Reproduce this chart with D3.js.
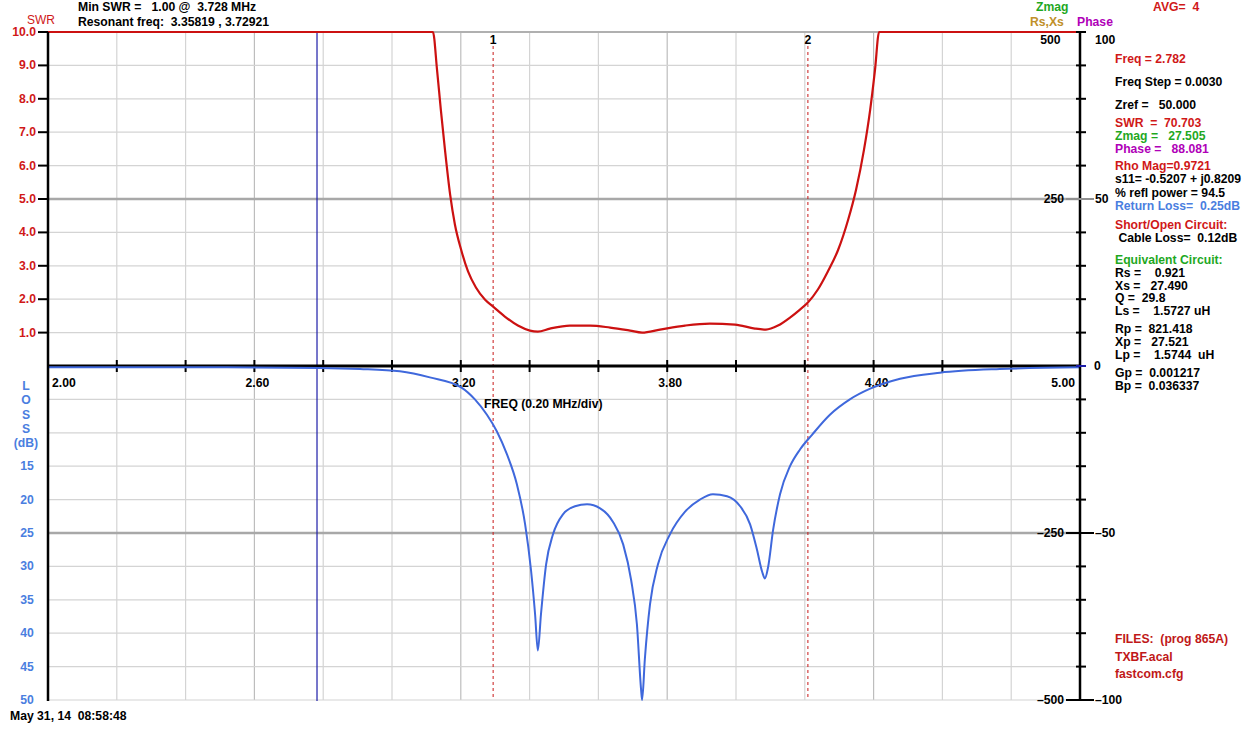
<!DOCTYPE html>
<html><head><meta charset="utf-8">
<script src="https://cdn.jsdelivr.net/npm/d3@7/dist/d3.min.js"></script>
<style>
html,body{margin:0;padding:0;background:#fff;}
text{font-family:"Liberation Sans",Arial,sans-serif;font-weight:bold;font-size:12.2px;white-space:pre;}
</style></head>
<body>
<svg id="c" width="1250" height="750"></svg>
<script>
// ---- data ----
const swrFreq = [2.0,3.119,3.131,3.142,3.154,3.169,3.183,3.201,3.221,3.244,3.270,3.294,3.328,3.366,3.401,3.424,3.459,3.517,3.576,3.634,3.692,3.727,3.779,3.852,3.924,3.997,4.055,4.087,4.122,4.157,4.186,4.209,4.238,4.267,4.297,4.326,4.349,4.372,4.390,4.404,4.416,5.0];
const swrVal  = [10,10,8.86,7.67,6.47,5.13,4.23,3.48,2.83,2.35,1.99,1.78,1.48,1.21,1.06,1.03,1.12,1.21,1.21,1.15,1.06,1.00,1.09,1.21,1.27,1.24,1.12,1.09,1.21,1.45,1.69,1.90,2.29,2.83,3.48,4.38,5.28,6.47,7.67,8.86,10,10];
const lossFreq = [2.0,2.442,2.791,2.907,3.023,3.110,3.201,3.241,3.276,3.305,3.334,3.363,3.387,3.404,3.416,3.424,3.433,3.448,3.468,3.497,3.532,3.567,3.605,3.642,3.672,3.695,3.712,3.724,3.727,3.735,3.750,3.773,3.808,3.852,3.895,3.933,3.974,4.012,4.041,4.061,4.076,4.084,4.093,4.108,4.128,4.157,4.186,4.221,4.273,4.331,4.390,4.477,4.593,4.767,5.0];
const lossVal  = [0.2,0.2,0.3,0.45,0.8,1.7,3.2,5.0,7.3,9.8,13.2,17.7,23.7,30.5,37.2,42.6,37.2,29.7,25.2,22.2,21.0,20.7,21.3,23.3,26.7,32.0,38.7,48.4,50,43.9,35.7,29.7,25.2,21.8,20.0,19.2,19.5,21.0,23.7,27.5,30.8,31.8,30.2,24.5,19.2,15.0,12.5,10.3,7.3,5.0,3.4,1.9,1.0,0.45,0.2];
const freqTicks = [2.0,2.2,2.4,2.6,2.8,3.0,3.2,3.4,3.6,3.8,4.0,4.2,4.4,4.6,4.8,5.0];
const freqLabels = [2.0,2.6,3.2,3.8,4.4,5.0];
const swrTicks = [10,9,8,7,6,5,4,3,2,1];
const lossTicks = [15,20,25,30,35,40,45,50];
const zmagLabels = [500,250,-250,-500];
const phaseLabels = [100,50,0,-50,-100];
const cursorFreq = 2.782;
const markerFreqs = [3.294,4.209];
const markerNames = ["1","2"];
const headerLines = ["Min SWR =   1.00 @  3.728 MHz","Resonant freq:  3.35819 , 3.72921"];
const panelLines = [
 ["Freq = 2.782","#d01818",59],["Freq Step = 0.0030","#000",82],["Zref =   50.000","#000",105],
 ["SWR  =  70.703","#d01818",123],["Zmag =   27.505","#1fa81f",136],["Phase =   88.081","#b000b8",149],
 ["Rho Mag=0.9721","#d01818",166],["s11= -0.5207 + j0.8209","#000",179],["% refl power = 94.5","#000",193],
 ["Return Loss=  0.25dB","#4a7ee0",206],["Short/Open Circuit:","#d01818",225],[" Cable Loss=  0.12dB","#000",238],
 ["Equivalent Circuit:","#1fa81f",260],["Rs =    0.921","#000",273],["Xs =   27.490","#000",286],
 ["Q =  29.8","#000",298],["Ls =    1.5727 uH","#000",311],["Rp =  821.418","#000",329],
 ["Xp =   27.521","#000",342],["Lp =    1.5744  uH","#000",355],["Gp =  0.001217","#000",373],
 ["Bp =  0.036337","#000",386],["FILES:  (prog 865A)","#c01818",639],["TXBF.acal","#c01818",657],["fastcom.cfg","#c01818",674]
];
const dateText = "May 31, 14  08:58:48";

// ---- layout ----
const svg = d3.select("#c");
const L=48, R=1080, T=32, B=700;
const mid = (T+B)/2;
const x = d3.scaleLinear().domain([2,5]).range([L,R]);
const ySwr = d3.scaleLinear().domain([0,10]).range([mid,T]);
const yLoss = d3.scaleLinear().domain([0,50]).range([mid,B]);
const yZ = d3.scaleLinear().domain([-500,500]).range([B,T]);
const yP = d3.scaleLinear().domain([-100,100]).range([B,T]);
const RED="#d01818", BLUE="#4a7ee0";

// grid
const g = svg.append("g");
freqTicks.slice(1,-1).forEach(f=>{
  g.append("line").attr("x1",x(f)).attr("x2",x(f)).attr("y1",T).attr("y2",B)
   .attr("stroke", freqLabels.includes(f)?"#bdbdbd":"#d4d4d4").attr("stroke-width",1.2);
});
d3.range(0,21).forEach(i=>{
  const v = -100 + i*10;
  const yy = yP(v);
  const strong = (v===50||v===-50);
  g.append("line").attr("x1",L).attr("x2",R).attr("y1",yy).attr("y2",yy)
   .attr("stroke", strong?"#a8a8a8":"#d4d4d4").attr("stroke-width",strong?2.5:1.2);
});
g.append("line").attr("x1",L).attr("x2",R).attr("y1",T).attr("y2",T).attr("stroke","#b0b0b0").attr("stroke-width",2);

// marker lines
markerFreqs.forEach((f,i)=>{
  svg.append("line").attr("x1",x(f)).attr("x2",x(f)).attr("y1",T+14).attr("y2",B)
    .attr("stroke","#c81818").attr("stroke-width",1).attr("stroke-dasharray","3,3");
  svg.append("text").attr("x",x(f)).attr("y",T+12).attr("text-anchor","middle").attr("fill","#000").text(markerNames[i]);
});

// cursor line
svg.append("line").attr("x1",x(cursorFreq)).attr("x2",x(cursorFreq)).attr("y1",T).attr("y2",B+1)
  .attr("stroke","#1c1ca8").attr("stroke-width",1.2);

// middle axis
svg.append("line").attr("x1",L).attr("x2",R).attr("y1",mid).attr("y2",mid).attr("stroke","#000").attr("stroke-width",3);
freqTicks.forEach(f=>{
  svg.append("line").attr("x1",x(f)).attr("x2",x(f)).attr("y1",mid-6).attr("y2",mid+6).attr("stroke","#000").attr("stroke-width",2);
});
freqLabels.forEach((f,i)=>{
  let anchor="middle", xx=x(f)+3;
  if(i===0){anchor="start"; xx=x(f)+4;}
  if(i===freqLabels.length-1){anchor="end"; xx=x(f)-5;}
  svg.append("text").attr("x",xx).attr("y",mid+21).attr("text-anchor",anchor).attr("fill","#000").text(f.toFixed(2));
});
svg.append("text").attr("x",484).attr("y",408).attr("fill","#000").text("FREQ (0.20 MHz/div)");

// curves
const lossData = lossFreq.map((f,i)=>[f,lossVal[i]]);
svg.append("path").datum(lossData)
  .attr("d", d3.line().x(d=>x(d[0])).y(d=>yLoss(d[1])).curve(d3.curveMonotoneX))
  .attr("fill","none").attr("stroke","#3f68dc").attr("stroke-width",2);
const swrData = swrFreq.map((f,i)=>[f,swrVal[i]]);
svg.append("path").datum(swrData)
  .attr("d", d3.line().x(d=>x(d[0])).y(d=>ySwr(d[1])).curve(d3.curveMonotoneX))
  .attr("fill","none").attr("stroke","#cc1111").attr("stroke-width",2.2);

// left axis
svg.append("line").attr("x1",L).attr("x2",L).attr("y1",T).attr("y2",B+1).attr("stroke","#000").attr("stroke-width",2.5);
swrTicks.forEach(v=>{
  svg.append("line").attr("x1",L-10).attr("x2",L).attr("y1",ySwr(v)).attr("y2",ySwr(v)).attr("stroke","#000").attr("stroke-width",2);
  svg.append("text").attr("x",L-12).attr("y",ySwr(v)+4).attr("text-anchor","end").attr("fill",RED).text(v.toFixed(1));
});
svg.append("text").attr("x",41).attr("y",24).attr("text-anchor","middle").attr("fill",RED)
  .style("font-weight","normal").style("font-size","12px").text("SWR");
["L","O","S","S","(dB)"].forEach((s,i)=>{
  svg.append("text").attr("x",26).attr("y",390+i*14.3).attr("text-anchor","middle").attr("fill",BLUE).text(s);
});
lossTicks.forEach(v=>{
  svg.append("text").attr("x",27).attr("y",yLoss(v)+4).attr("text-anchor","middle").attr("fill",BLUE).text(v);
});

// right axis
svg.append("line").attr("x1",R).attr("x2",R).attr("y1",T).attr("y2",B+1).attr("stroke","#000").attr("stroke-width",2.5);
d3.range(0,21).forEach(i=>{
  const v=-100+i*10;
  const yy=yP(v);
  if(v===50||v===-50||v===-100){
    svg.append("line").attr("x1",R-14).attr("x2",R+14).attr("y1",yy).attr("y2",yy).attr("stroke",v===50?"#909090":"#000").attr("stroke-width",2);
  } else {
    svg.append("line").attr("x1",R-4).attr("x2",R+6).attr("y1",yy).attr("y2",yy).attr("stroke",v===0?"#1c1ca8":"#000").attr("stroke-width",2);
  }
});
zmagLabels.forEach(v=>{
  const yy = v===500? yZ(v)+12 : yZ(v)+4;
  svg.append("text").attr("x",R-16).attr("y",yy).attr("text-anchor","end").attr("fill","#000").text(v===500?"500 ":String(v).replace("-","\u2013"));
});
phaseLabels.forEach(v=>{
  const yy = v===100? yP(v)+12 : yP(v)+4;
  const xx = v===0 ? R+14 : R+15;
  svg.append("text").attr("x",xx).attr("y",yy).attr("text-anchor","start").attr("fill","#000").text(String(v).replace("-","\u2013"));
});

// header texts
svg.append("text").attr("x",78).attr("y",11).attr("fill","#000").text(headerLines[0]);
svg.append("text").attr("x",78).attr("y",26).attr("fill","#000").text(headerLines[1]);
svg.append("text").attr("x",1036).attr("y",11).attr("fill","#1fa81f").text("Zmag");
svg.append("text").attr("x",1030).attr("y",26).attr("fill","#c0902a").text("Rs,Xs");
svg.append("text").attr("x",1077).attr("y",26).attr("fill","#b000b8").text("Phase");
svg.append("text").attr("x",1153).attr("y",11).attr("fill",RED).text("AVG=  4");

// right panel
panelLines.forEach(p=>{
  svg.append("text").attr("x",1115).attr("y",p[2]+4).attr("fill",p[1]).text(p[0]);
});

svg.append("text").attr("x",10).attr("y",720).attr("fill","#000").text(dateText);
</script>
</body></html>
